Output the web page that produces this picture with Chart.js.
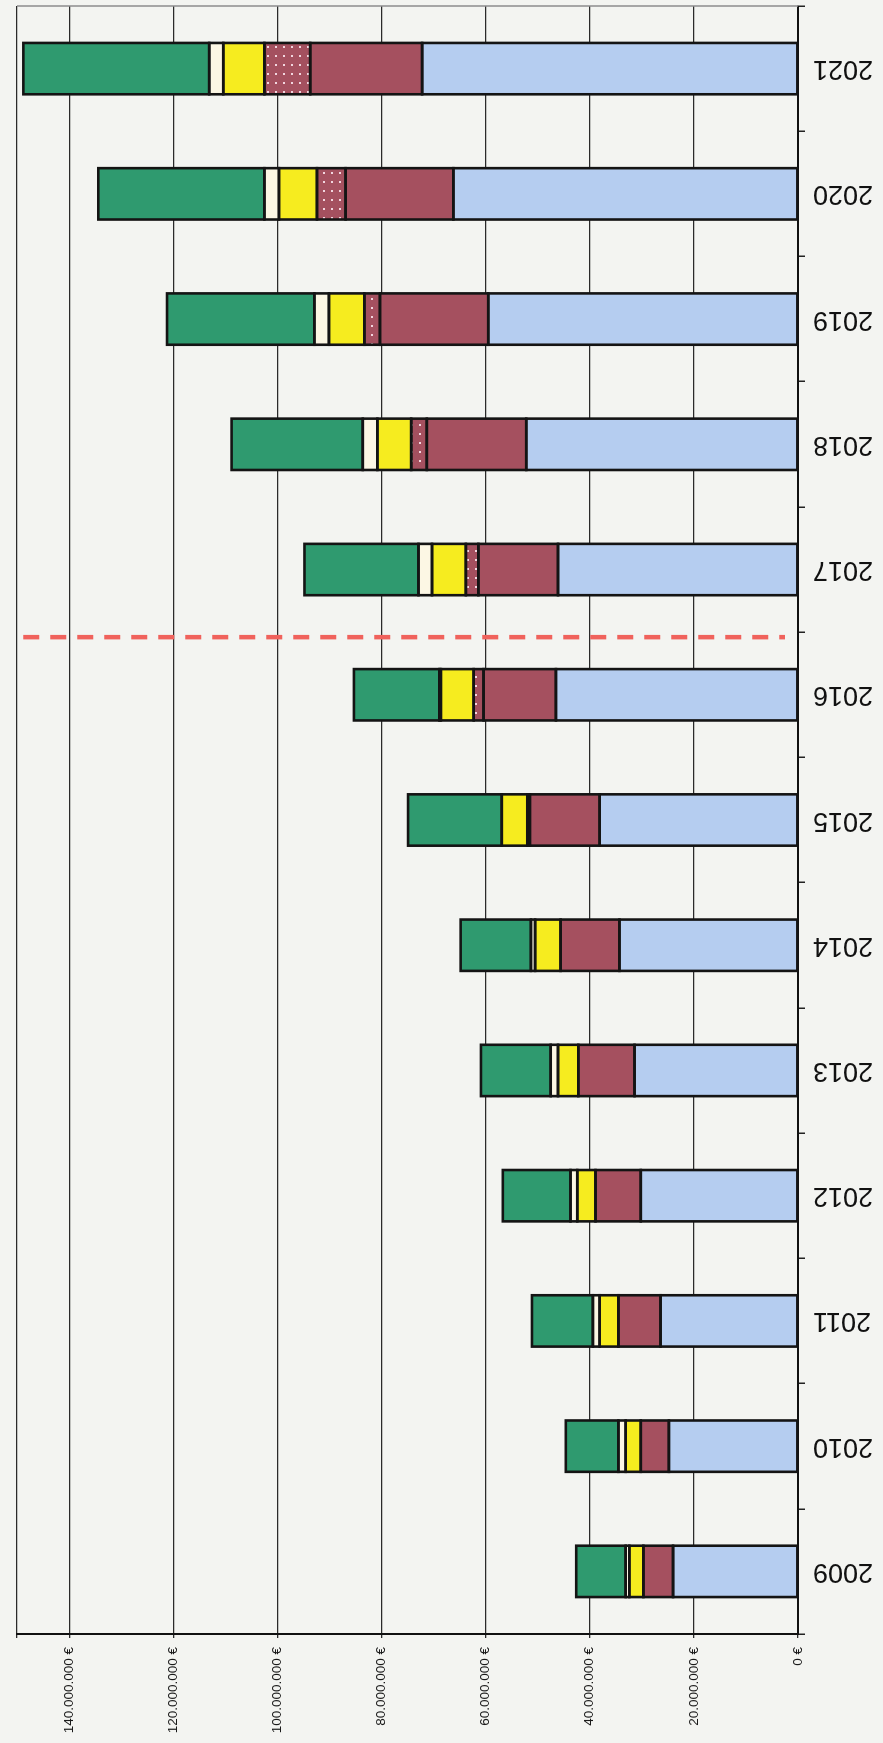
<!DOCTYPE html>
<html><head><meta charset="utf-8">
<script src="https://cdn.jsdelivr.net/npm/chart.js@4"></script>
<style>
html,body{margin:0;padding:0;background:#f3f4f1;width:883px;height:1743px;overflow:hidden;}
#wrap{position:absolute;left:0;top:0;width:1743px;height:883px;transform-origin:0 0;transform:translate(0,1743px) rotate(-90deg);}
canvas{display:block}
</style></head><body>
<div id="wrap"><canvas id="c" width="1743" height="883"></canvas></div>
<script>
// values in million euros
const years  = ['2009','2010','2011','2012','2013','2014','2015','2016','2017','2018','2019','2020','2021'];
const blue   = [24.0, 24.8, 26.4, 30.2, 31.4, 34.3, 38.1, 46.5, 46.1, 52.2, 59.5, 66.2, 72.2];
const maroon = [5.7, 5.4, 8.1, 8.7, 10.8, 11.3, 13.4, 13.9, 15.3, 19.1, 20.8, 20.7, 21.5];
const dotted = [0, 0, 0, 0, 0, 0, 0.5, 1.9, 2.4, 3.0, 3.0, 5.5, 8.8];
const yellow = [2.7, 2.9, 3.6, 3.5, 3.9, 4.9, 4.9, 6.3, 6.5, 6.5, 6.8, 7.3, 7.9];
const cream  = [0.7, 1.4, 1.3, 1.3, 1.4, 0.8, 0, 0.3, 2.6, 2.8, 2.8, 2.8, 2.7];
const green  = [9.5, 10.1, 11.7, 13.0, 13.4, 13.5, 18.0, 16.4, 21.9, 25.2, 28.3, 31.9, 35.7];
const valueTicks = [0, 20, 40, 60, 80, 100, 120, 140];
const valueMax = 150;

function dotPattern(){
  const p = document.createElement('canvas'); p.width = 9; p.height = 8;
  const g = p.getContext('2d');
  g.fillStyle = '#a4505f'; g.fillRect(0,0,9,8);
  g.fillStyle = '#f2d6df'; g.fillRect(3,3,2,2);
  return g.createPattern(p, 'repeat');
}
function fmt(v){
  return String(Math.round(v*1000000)).replace(/\B(?=(\d{3})+(?!\d))/g, '.') + ' €';
}
const ctx = document.getElementById('c').getContext('2d');
const common = {borderWidth:0, barPercentage:0.41, categoryPercentage:1};
const extras = {
  id:'extras',
  afterDatasetsDraw(chart){
    const {ctx, chartArea, scales:{x, y}} = chart;
    ctx.save();
    // segment outlines centred on the segment edges
    ctx.strokeStyle = '#141414'; ctx.lineWidth = 2.6; ctx.lineJoin = 'miter';
    chart.data.datasets.forEach((ds, i) => {
      chart.getDatasetMeta(i).data.forEach((bar, j) => {
        if (!ds.data[j]) return;
        const p = bar.getProps(['x','y','base','width'], true);
        const top = Math.min(p.y, p.base), bot = Math.max(p.y, p.base);
        ctx.strokeRect(p.x - p.width/2, top, p.width, bot - top);
      });
    });
    const xb = (x.getPixelForValue(7) + x.getPixelForValue(8)) / 2 - 5;
    ctx.strokeStyle = '#f0625c'; ctx.lineWidth = 4.5; ctx.setLineDash([16, 11]);
    ctx.beginPath(); ctx.moveTo(xb, y.getPixelForValue(148.8)); ctx.lineTo(xb, y.getPixelForValue(2.5)); ctx.stroke();
    ctx.setLineDash([]); ctx.strokeStyle = '#8c8c8c'; ctx.lineWidth = 1.5;
    ctx.beginPath(); ctx.moveTo(chartArea.right, chartArea.top); ctx.lineTo(chartArea.right, chartArea.bottom); ctx.stroke();
    ctx.restore();
  }
};
new Chart(ctx, {
  type:'bar',
  data:{
    labels: years,
    datasets:[
      {data: blue, backgroundColor:'#b5cdf0', ...common},
      {data: maroon, backgroundColor:'#a5505f', ...common},
      {data: dotted, backgroundColor: dotPattern(), ...common},
      {data: yellow, backgroundColor:'#f6ec1f', ...common},
      {data: cream, backgroundColor:'#fcf7e4', ...common},
      {data: green, backgroundColor:'#2f9a6f', ...common}
    ]
  },
  options:{
    responsive:false, animation:false, devicePixelRatio:1,
    layout:{padding:{left:0, right:6, top:11, bottom:0}},
    plugins:{legend:{display:false}, tooltip:{enabled:false}},
    scales:{
      x:{
        stacked:true,
        grid:{display:true, drawOnChartArea:false, drawTicks:true, tickLength:7, color:'#222', lineWidth:1.5, offset:true},
        border:{display:true, color:'#111', width:2},
        ticks:{font:{family:'Liberation Sans, Arial, sans-serif', size:27}, color:'#111', minRotation:90, maxRotation:90, padding:8, autoSkip:false},
        afterFit(s){ s.height = 85; }
      },
      y:{
        stacked:true, min:0, max:valueMax,
        afterBuildTicks(s){ s.ticks = valueTicks.concat([valueMax]).map(v => ({value:v})); },
        grid:{color:'#2a2a2a', lineWidth:1.3, tickLength:4, drawTicks:true},
        border:{display:true, color:'#111', width:2},
        ticks:{font:{family:'Liberation Sans, Arial, sans-serif', size:13.5}, color:'#1a1a1a', padding:9,
          callback:(v) => v === valueMax ? '' : fmt(v)},
        afterFit(s){ s.width = 109; }
      }
    }
  },
  plugins:[extras]
});
</script>
</body></html>
